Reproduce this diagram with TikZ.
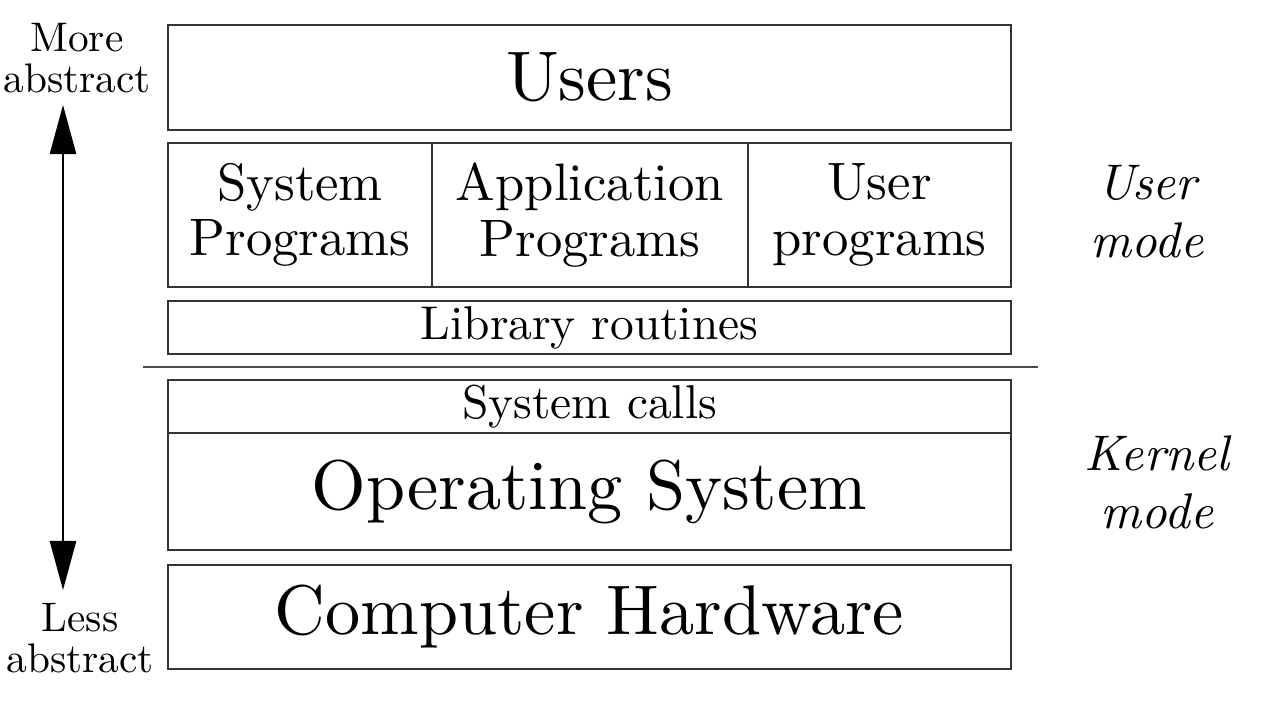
\documentclass[tikz,border=0pt]{standalone}
\usepackage{fontspec}
\setmainfont{lmroman10-regular.otf}[ItalicFont=lmroman10-italic.otf, BoldFont=lmroman10-bold.otf]
\usetikzlibrary{arrows.meta}

\tikzset{
  layer/.style={draw=black!80, line width=1.1pt, inner sep=0pt, align=center, anchor=center},
  bigtext/.style={font=\fontsize{40}{42}\selectfont},
  midtext/.style={font=\fontsize{30}{31.5}\selectfont},
  smalltext/.style={font=\fontsize{27}{28}\selectfont},
  sidetext/.style={font=\fontsize{23.5}{23.5}\selectfont, align=center},
  modetext/.style={font=\fontsize{28.5}{33}\selectfont\itshape, align=center}
}

\begin{document}
\begin{tikzpicture}[x=0.02cm, y=-0.02cm]
\useasboundingbox (0,0) rectangle (1263,703);
% layers
\node [layer, bigtext, minimum width=16.86cm, minimum height=2.1cm] (users) at (589.5,77.5) {Users};
\node [layer, midtext, minimum width=5.28cm, minimum height=2.88cm] (sysprog) at (300,215) {System\\Programs};
\node [layer, midtext, minimum width=6.32cm, minimum height=2.88cm] (appprog) at (590,215) {Application\\Programs};
\node [layer, midtext, minimum width=5.26cm, minimum height=2.88cm] (userprog) at (879.5,215) {User\\programs};
\node [layer, smalltext, minimum width=16.86cm, minimum height=1.06cm] (library) at (589.5,327.5) {Library routines};
\node [layer, smalltext, minimum width=16.86cm, minimum height=1.06cm] (syscalls) at (589.5,406.5) {System calls};
\node [layer, bigtext, minimum width=16.86cm, minimum height=2.34cm] (os) at (589.5,491.5) {Operating System};
\node [layer, bigtext, minimum width=16.86cm, minimum height=2.08cm] (hardware) at (589.5,617) {Computer Hardware};
% user / kernel boundary
\coordinate (sepL) at (143,367);
\coordinate (sepR) at (1038,367);
\draw [black!70, line width=0.9pt] (sepL) -- (sepR);
% abstraction arrow
\node [sidetext] (more) at (77,58) {More\\abstract};
\node [sidetext] (less) at (80,638) {Less\\abstract};
\coordinate (arrtop) at (63,105);
\coordinate (arrbot) at (63,590);
\draw [line width=1pt, {Triangle[length=28pt, width=15pt]}-{Triangle[length=28pt, width=15pt]}] (arrtop) -- (arrbot);
% modes
\node [modetext] (usermode) at (1147,212) {User\\mode};
\node [modetext] (kernelmode) at (1157,482) {Kernel\\mode};
\end{tikzpicture}
\end{document}
